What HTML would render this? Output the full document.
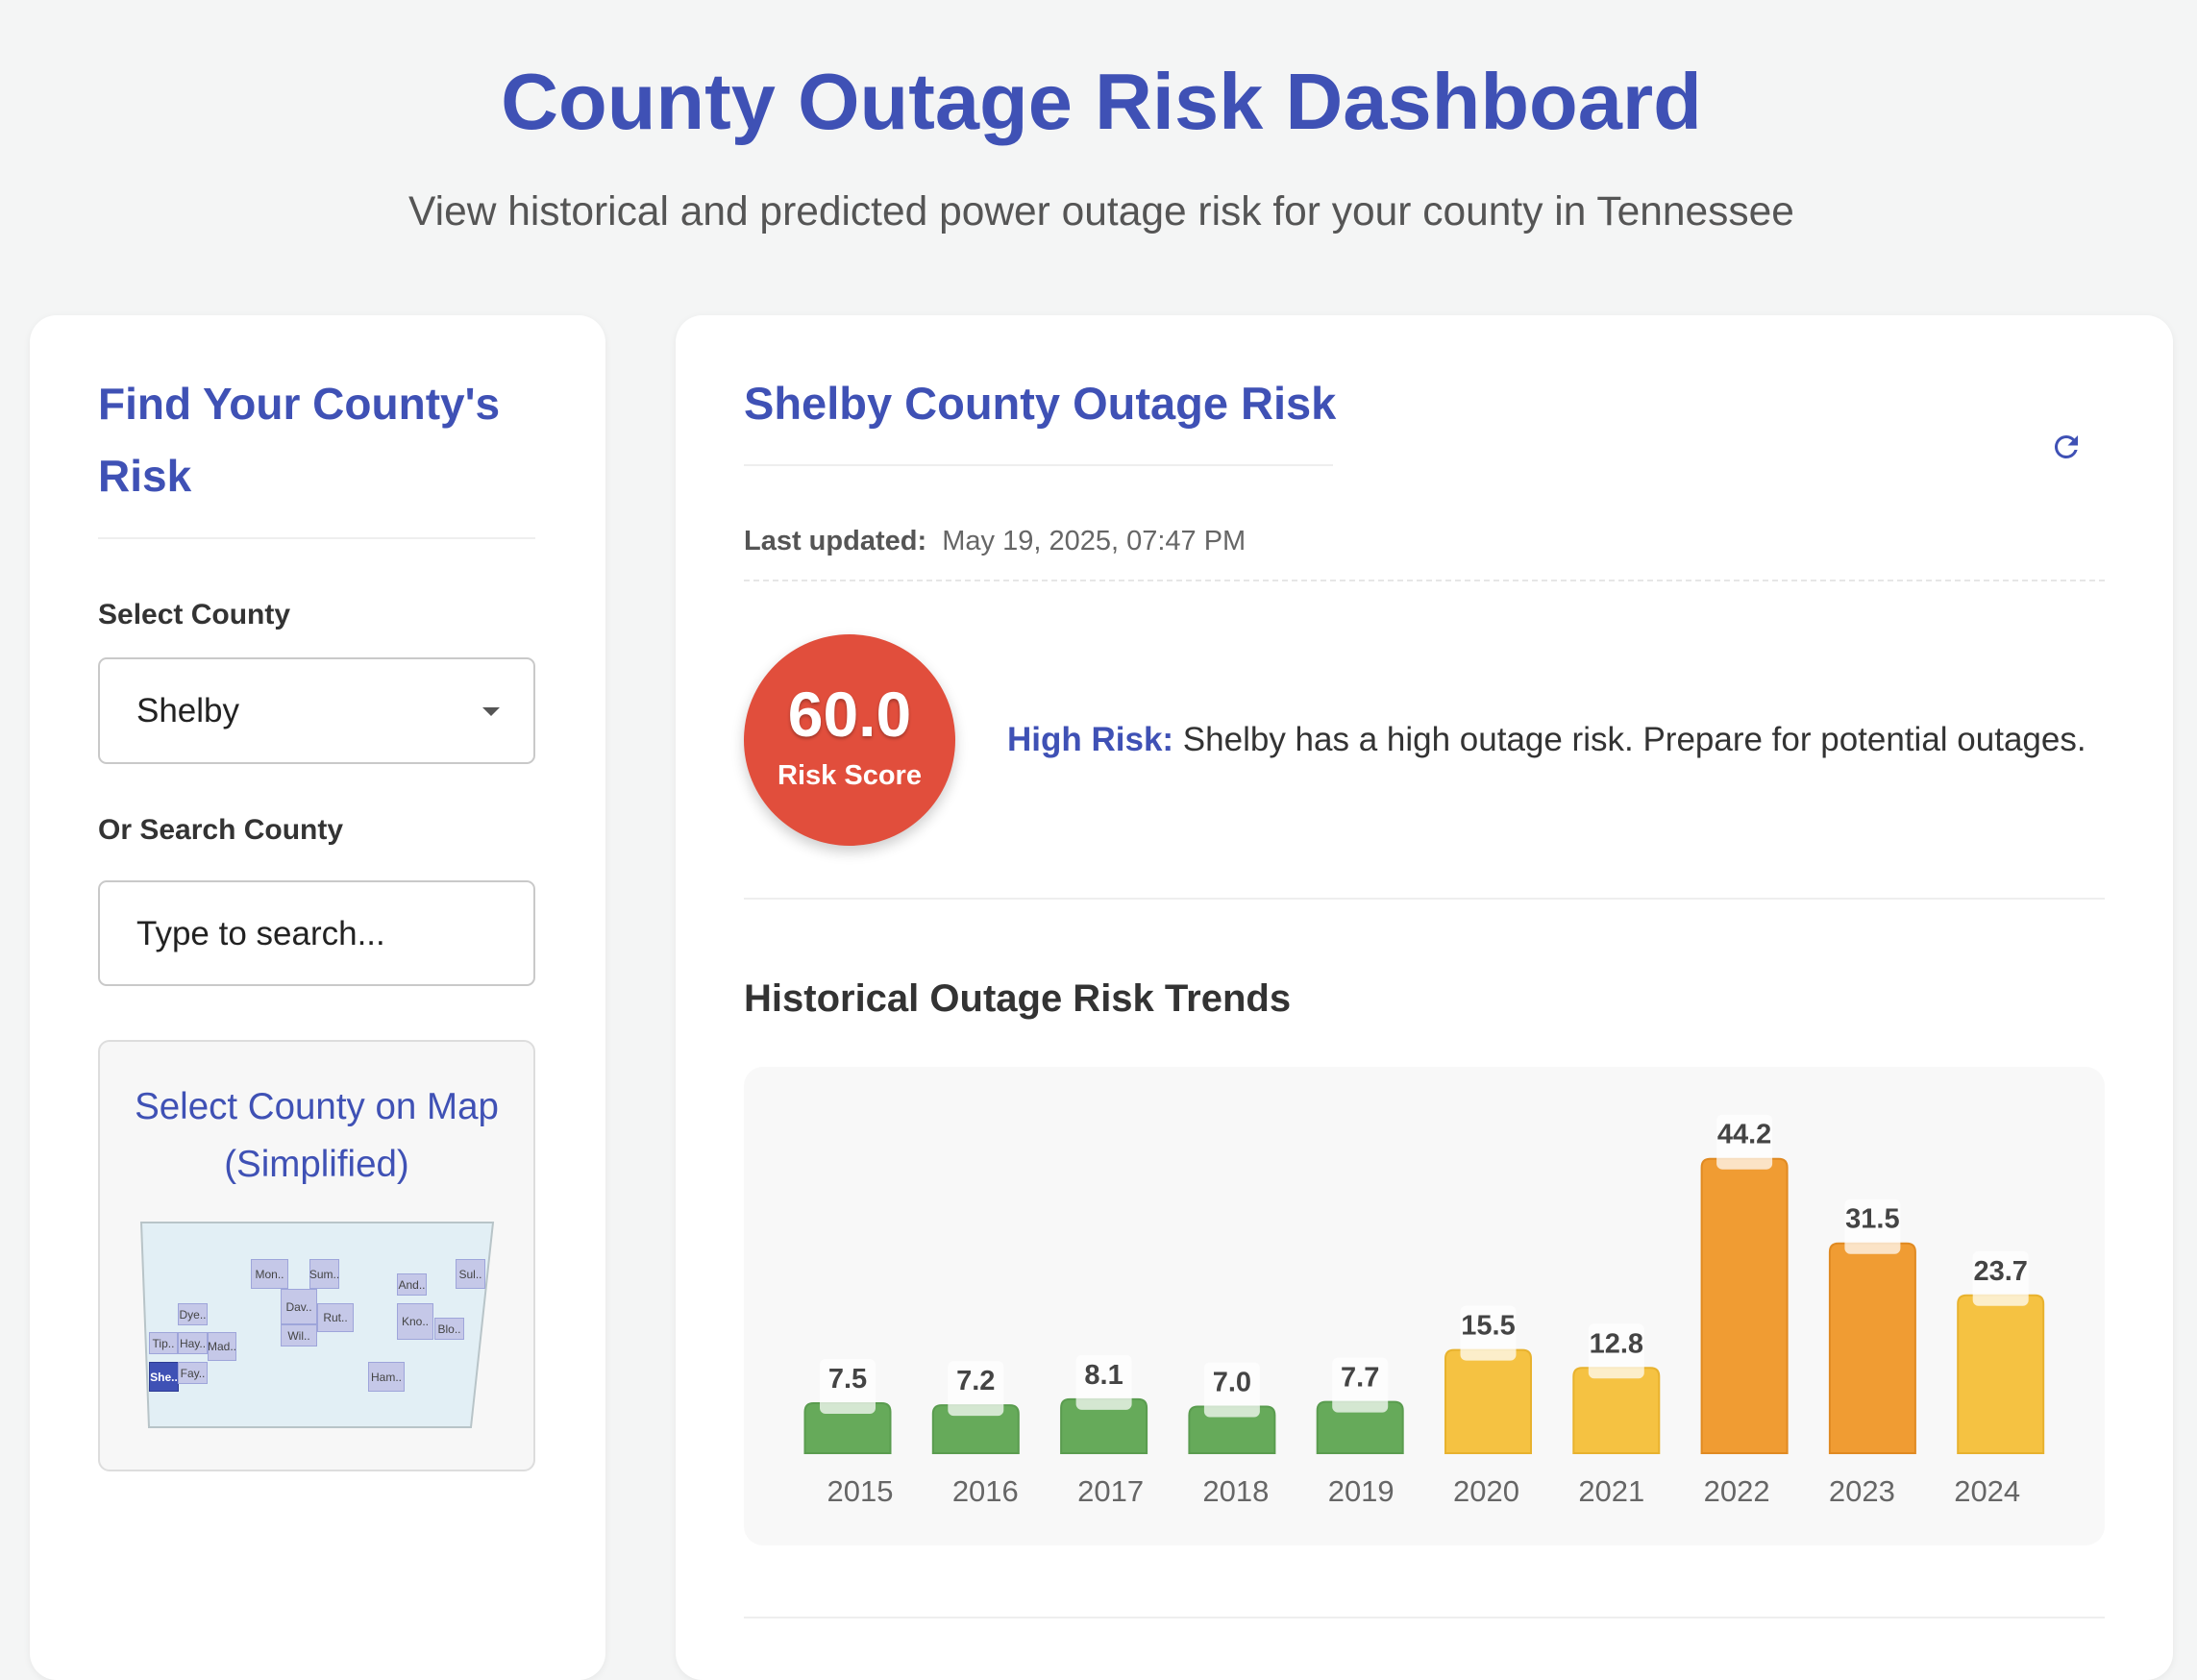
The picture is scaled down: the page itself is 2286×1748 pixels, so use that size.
<!DOCTYPE html>
<html><head><meta charset="utf-8">
<style>
*{box-sizing:border-box;margin:0;padding:0}
body{width:2286px;height:1704px;background:#f4f5f5;font-family:"Liberation Sans",sans-serif;position:relative;overflow:hidden}
.abs{position:absolute}
.card{position:absolute;background:#fff;border-radius:28px;box-shadow:0 2px 8px rgba(0,0,0,0.06)}
.lbl{font-size:30px;font-weight:bold;color:#333}
.box{position:absolute;border:2px solid #c9c9c9;border-radius:9px;background:#fff}
.cty{position:absolute;background:#c5c8e8;border:1.5px solid #9ea5da;font-size:12px;color:#444;display:flex;align-items:center;justify-content:center}
</style></head>
<body>
<div class="abs" style="left:0;width:2292px;top:58px;text-align:center;font-size:83px;font-weight:bold;color:#3f51b5">County Outage Risk Dashboard</div>
<div class="abs" style="left:0;width:2292px;top:197px;text-align:center;font-size:42.5px;color:#555">View historical and predicted power outage risk for your county in Tennessee</div>

<div class="card" style="left:31px;top:328px;width:599px;height:1420px">
</div>
<div class="abs" style="left:102px;top:383px;font-size:46px;font-weight:bold;color:#3f51b5;line-height:75px">Find Your County's<br>Risk</div>
<div class="abs" style="left:102px;top:559px;width:455px;height:2px;background:#eee"></div>
<div class="abs lbl" style="left:102px;top:623px">Select County</div>
<div class="box" style="left:102px;top:684px;width:455px;height:111px">
 <span style="position:absolute;left:38px;top:34px;font-size:35px;color:#222">Shelby</span>
 <span style="position:absolute;left:398px;top:50px;width:0;height:0;border-left:9px solid transparent;border-right:9px solid transparent;border-top:9px solid #555"></span>
</div>
<div class="abs lbl" style="left:102px;top:847px">Or Search County</div>
<div class="box" style="left:102px;top:916px;width:455px;height:110px">
 <span style="position:absolute;left:38px;top:34px;font-size:35px;color:#222">Type to search...</span>
</div>
<div class="abs" style="left:102px;top:1082px;width:455px;height:449px;background:#f7f7f7;border:2px solid #ddd;border-radius:12px"></div>
<div class="abs" style="left:102px;top:1122px;width:455px;text-align:center;font-size:38.5px;color:#3f51b5;line-height:60px">Select County on Map<br>(Simplified)</div>
<svg class="abs" style="left:0;top:0" width="600" height="1600"><polygon points="147,1272 513,1272 490,1485 155,1485" fill="#e2eff5" stroke="#b8c4c8" stroke-width="2"/></svg>
<div class="cty" style="left:261px;top:1310px;width:39px;height:31px">Mon..</div>
<div class="cty" style="left:322px;top:1310px;width:31px;height:31px">Sum..</div>
<div class="cty" style="left:292px;top:1341px;width:38px;height:37px">Dav..</div>
<div class="cty" style="left:330px;top:1356px;width:38px;height:30px">Rut..</div>
<div class="cty" style="left:292px;top:1378px;width:38px;height:23px">Wil..</div>
<div class="cty" style="left:185px;top:1356px;width:31px;height:23px">Dye..</div>
<div class="cty" style="left:155px;top:1386px;width:30px;height:23px">Tip..</div>
<div class="cty" style="left:185px;top:1386px;width:31px;height:23px">Hay..</div>
<div class="cty" style="left:216px;top:1386px;width:30px;height:30px">Mad..</div>
<div class="cty" style="left:155px;top:1417px;width:31px;height:31px;background:#3f51b5;border-color:#2c3a94;color:#fff;font-weight:bold">She..</div>
<div class="cty" style="left:185px;top:1417px;width:31px;height:23px">Fay..</div>
<div class="cty" style="left:413px;top:1325px;width:31px;height:23px">And..</div>
<div class="cty" style="left:474px;top:1310px;width:31px;height:31px">Sul..</div>
<div class="cty" style="left:413px;top:1356px;width:38px;height:38px">Kno..</div>
<div class="cty" style="left:452px;top:1371px;width:31px;height:23px">Blo..</div>
<div class="cty" style="left:383px;top:1417px;width:38px;height:31px">Ham..</div>

<div class="card" style="left:703px;top:328px;width:1558px;height:1420px"></div>
<div class="abs" style="left:774px;top:392px;font-size:47px;font-weight:bold;color:#3f51b5">Shelby County Outage Risk</div>
<div class="abs" style="left:774px;top:483px;width:613px;height:2px;background:#eee"></div>
<svg class="abs" style="left:2132px;top:447px" width="36" height="36" viewBox="0 0 24 24"><path d="M17.65 6.35A7.95 7.95 0 0 0 12 4a8 8 0 1 0 7.730 10h-2.08A6 6 0 1 1 12 6c1.66 0 3.14.69 4.22 1.78L13 11h7V4l-2.35 2.35z" fill="#3f51b5"/></svg>
<div class="abs" style="left:774px;top:547px;font-size:29px;color:#666"><b style="color:#555">Last updated:</b>&nbsp; May 19, 2025, 07:47 PM</div>
<div class="abs" style="left:774px;top:603px;width:1416px;border-top:2px dashed #e6e6e6"></div>
<div class="abs" style="left:774px;top:660px;width:220px;height:220px;border-radius:50%;background:#e14e3c;box-shadow:0 6px 14px rgba(0,0,0,0.2);color:#fff;text-align:center">
 <div style="font-size:66px;font-weight:bold;margin-top:45px;text-shadow:0 2px 3px rgba(0,0,0,0.3)">60.0</div>
 <div style="font-size:29px;font-weight:bold;margin-top:10px">Risk Score</div>
</div>
<div class="abs" style="left:1048px;top:750px;font-size:35px;color:#333"><b style="color:#3f51b5">High Risk:</b> Shelby has a high outage risk. Prepare for potential outages.</div>
<div class="abs" style="left:774px;top:934px;width:1416px;height:2px;background:#eee"></div>
<div class="abs" style="left:774px;top:1017px;font-size:40px;font-weight:bold;color:#333">Historical Outage Risk Trends</div>
<div class="abs" style="left:774px;top:1110px;width:1416px;height:498px;background:#f8f8f8;border-radius:20px"></div>
<div class="abs" style="left:774px;top:1682px;width:1416px;height:2px;background:#eee"></div>
<svg id="chart" class="abs" style="left:0;top:0" width="2286" height="1704"></svg>
<script>
const years=["2015","2016","2017","2018","2019","2020","2021","2022","2023","2024"];
const risk=[7.5,7.2,8.1,7.0,7.7,15.5,12.8,44.2,31.5,23.7];
const labels=["7.5","7.2","8.1","7.0","7.7","15.5","12.8","44.2","31.5","23.7"];
const x0=882,step=133.3,base=1512,k=6.93,bw=89;
const X=i=>x0+i*step;
const XL=i=>895+i*130.3;
const Y=v=>base-v*k;
const col=v=>v<10?["#66aa5a","#5a9c4f"]:(v>=30?["#f09c33","#e08a22"]:["#f5c242","#e8b22e"]);
const svg=document.getElementById('chart');
const NS="http://www.w3.org/2000/svg";
function mk(t,a){const e=document.createElementNS(NS,t);for(const n in a)e.setAttribute(n,a[n]);svg.appendChild(e);return e;}
risk.forEach((v,i)=>{
 const c=col(v),top=Y(v);
 const b=mk('path',{d:`M${X(i)-bw/2},${base} V${top+9} Q${X(i)-bw/2},${top} ${X(i)-bw/2+9},${top} H${X(i)+bw/2-9} Q${X(i)+bw/2},${top} ${X(i)+bw/2},${top+9} V${base} Z`,fill:c[0],stroke:c[1],'stroke-width':2});
 
 
 const r=mk('rect',{x:X(i)-29,y:top-46,width:58,height:57,rx:6,fill:'#fff','fill-opacity':0.72});
 
 
 const t=mk('text',{x:X(i),y:top-16,'text-anchor':'middle','font-size':29,'font-weight':'bold',fill:'#444','font-family':'Liberation Sans'});
 t.textContent=labels[i];
 
 
 const yl=mk('text',{x:XL(i),y:1562,'text-anchor':'middle','font-size':31,fill:'#666','font-family':'Liberation Sans'});
 yl.textContent=years[i];
 
 
});
</script>
</body></html>
